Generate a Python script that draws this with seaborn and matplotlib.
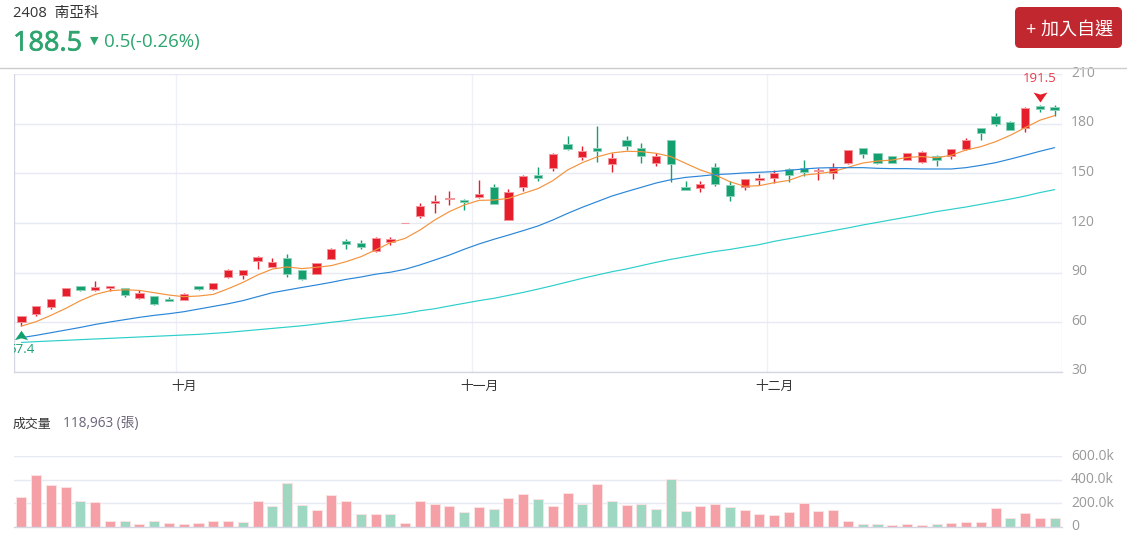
"""Stock candlestick chart with moving averages and volume."""

import matplotlib
matplotlib.use("Agg")
import matplotlib.patheffects as path_effects
import matplotlib.pyplot as plt
import matplotlib.transforms as mtransforms
import numpy as np
import seaborn as sns
from matplotlib.patches import FancyBboxPatch
from matplotlib.path import Path

candle_open = [60.1, 64.9, 69.2, 76.0, 81.7, 79.2, 80.6, 80.6, 74.4, 75.6, 74.2, 73.4, 81.7, 79.8, 87.3, 88.5, 96.8, 93.6, 98.8, 91.5, 89.3, 98.4, 108.9, 107.7, 103.2,
               108.3, 120.0, 124.0, 132.1, 134.7, 134.1, 135.7, 141.8, 122.0, 142.0, 149.1, 153.1, 168.0, 160.0, 165.2, 155.9, 170.5, 165.4, 156.3, 170.0, 142.0, 141.0, 154.1, 143.0, 141.6,
               146.2, 147.0, 152.9, 153.5, 151.3, 150.5, 156.1, 165.4, 162.4, 160.4, 158.1, 157.1, 160.4, 160.4, 164.6, 177.3, 185.0, 181.3, 177.7, 191.0, 190.2]
candle_close = [63.7, 69.8, 74.0, 80.5, 79.3, 81.5, 81.7, 76.2, 77.4, 71.2, 73.0, 76.8, 79.8, 83.5, 91.7, 91.3, 99.2, 96.4, 89.3, 86.3, 95.6, 104.5, 107.1, 105.5, 110.7,
                110.3, 120.2, 130.5, 133.5, 135.2, 132.5, 137.6, 131.5, 138.6, 148.4, 147.0, 162.0, 164.6, 163.6, 163.6, 159.1, 166.4, 160.6, 160.6, 155.5, 140.2, 143.6, 143.4, 136.4, 146.6,
                147.0, 150.1, 149.3, 151.1, 151.9, 153.5, 164.0, 162.0, 156.1, 156.3, 162.2, 162.8, 158.0, 164.8, 170.2, 174.5, 180.1, 176.5, 189.4, 189.0, 188.5]
candle_high = [63.7, 69.9, 74.1, 80.6, 81.9, 84.9, 81.9, 80.8, 79.4, 75.8, 75.4, 77.4, 81.9, 83.7, 91.9, 91.5, 100.0, 98.6, 101.2, 91.7, 95.8, 104.7, 110.1, 109.5, 111.3,
               111.5, 120.3, 131.9, 136.9, 139.4, 134.3, 146.0, 143.4, 140.8, 149.1, 153.7, 162.2, 172.7, 166.6, 178.7, 162.2, 172.7, 168.2, 162.6, 170.2, 145.4, 145.6, 156.1, 145.6, 146.8,
               149.5, 151.9, 153.1, 158.3, 153.3, 156.1, 164.2, 165.6, 162.6, 160.6, 162.4, 163.6, 161.2, 165.0, 171.3, 177.5, 186.4, 181.5, 190.2, 191.5, 191.2]
candle_low = [57.4, 63.9, 68.0, 75.6, 78.8, 79.0, 78.8, 75.4, 74.2, 70.4, 72.8, 73.2, 79.4, 79.6, 87.0, 86.1, 92.1, 93.4, 87.3, 85.3, 89.1, 98.2, 104.5, 104.5, 102.2,
              106.5, 119.9, 123.2, 126.0, 130.9, 127.9, 135.3, 131.3, 121.8, 139.2, 145.6, 151.5, 164.2, 158.4, 157.1, 150.9, 164.2, 156.5, 154.3, 145.0, 140.0, 138.8, 142.2, 133.3, 139.8,
              142.8, 144.4, 145.0, 148.4, 145.8, 146.6, 155.9, 159.2, 155.5, 156.1, 157.9, 156.3, 154.7, 158.7, 164.4, 170.2, 178.9, 176.3, 175.1, 187.4, 184.8]

ma_short = [57.6, 60.3, 64.1, 68.3, 73.0, 76.8, 79.0, 79.6, 79.2, 77.8, 76.4, 75.4, 75.8, 76.8, 80.2, 84.0, 88.5, 92.1, 93.4, 92.4, 93.2, 94.2, 96.6, 99.6, 103.7,
            108.1, 110.7, 115.7, 121.8, 126.9, 130.9, 133.7, 133.9, 134.9, 137.9, 140.8, 145.6, 152.1, 156.5, 160.0, 162.4, 163.4, 163.2, 162.2, 160.2, 156.1, 152.1, 149.1, 145.0, 142.2,
            142.6, 144.4, 145.8, 149.0, 149.9, 151.1, 153.7, 156.3, 157.5, 158.1, 159.7, 160.2, 159.5, 161.0, 164.2, 166.2, 169.2, 173.1, 177.7, 182.2, 185.0]
ma_mid = [50.6, 52.0, 53.6, 55.2, 56.8, 58.6, 60.1, 61.5, 62.9, 64.1, 65.1, 66.3, 67.9, 69.5, 71.1, 73.0, 75.4, 77.8, 79.4, 81.0, 82.5, 84.1, 85.9, 87.3, 89.0,
          90.2, 92.0, 94.6, 97.6, 100.6, 104.1, 107.3, 110.1, 112.7, 115.4, 118.2, 121.8, 125.8, 129.5, 132.9, 136.3, 139.0, 141.6, 144.2, 146.2, 147.6, 148.4, 149.3, 149.7, 150.3,
          150.7, 151.1, 151.9, 152.7, 153.3, 153.5, 153.5, 153.5, 153.1, 152.9, 152.9, 152.7, 152.7, 152.7, 153.5, 154.9, 156.5, 158.7, 161.0, 163.4, 165.6]
ma_long = [47.7, 48.2, 48.6, 49.0, 49.4, 49.8, 50.2, 50.6, 51.0, 51.4, 51.8, 52.2, 52.6, 53.2, 53.8, 54.6, 55.4, 56.2, 57.0, 57.8, 58.8, 59.9, 60.9, 62.1, 63.1,
           64.1, 65.3, 66.9, 68.1, 69.8, 71.4, 73.0, 74.4, 76.2, 78.0, 80.0, 82.1, 84.3, 86.5, 88.5, 90.5, 92.2, 94.2, 96.2, 98.0, 99.6, 101.2, 102.8, 104.0, 105.5,
           106.9, 108.9, 110.5, 112.1, 113.7, 115.4, 117.0, 118.8, 120.4, 122.0, 123.6, 125.2, 126.9, 128.3, 129.7, 131.3, 132.9, 134.5, 136.3, 138.4, 140.2]

volume_k = [256, 442, 353, 342, 220, 214, 50, 47, 28, 47, 33, 28, 36, 50, 53, 44, 220, 178, 372, 186, 142, 267, 217, 108, 108,
            111, 31, 222, 195, 178, 125, 170, 153, 245, 278, 234, 181, 284, 193, 362, 218, 188, 193, 155, 403, 135, 177, 196, 166, 141,
            110, 99, 124, 199, 135, 141, 50, 28, 28, 17, 28, 19, 28, 33, 41, 41, 157, 77, 121, 80, 75]
volume_dir = (["u"] * 4 + ["d"] + ["u"] * 2 + ["d", "u", "d"] + ["u"] * 5 + ["d", "u", "d", "d", "d"] + ["u"] * 3
              + ["d", "u", "d"] + ["u"] * 4 + ["d", "u", "d", "u", "u", "d", "u"]
              + ["u", "d", "u", "d", "u", "d", "d", "d", "d", "u", "u", "d"]
              + ["u"] * 8 + ["d", "d"] + ["u"] * 3 + ["d"] + ["u"] * 4 + ["d", "u", "u", "d"])

price_ticks = [30, 60, 90, 120, 150, 180, 210]
volume_ticks = [0, 200, 400, 600]
volume_tick_labels = ["0", "200.0k", "400.0k", "600.0k"]
month_pos = [11, 31, 51]
month_labels = ["十月", "十一月", "十二月"]

RED = "#e61e2c"
GREEN = "#14a06e"
GRID = "#e6eaf3"
AXIS = "#d4d7e3"
TICK = "#999999"
W, H = 1127, 535

sns.set_theme(style="white")
plt.rcParams["font.family"] = ["Open Sans", "Noto Sans CJK TC", "DejaVu Sans"]


def px_axes(fig, left, top, right, bottom):
    return fig.add_axes([left / W, 1 - bottom / H, (right - left) / W, (bottom - top) / H])


def style_axes(ax, ticks, labels, xlim, lift):
    ax.set_xlim(*xlim)
    ax.set_yticks(ticks)
    ax.set_yticklabels(labels)
    ax.yaxis.tick_right()
    ax.tick_params(axis="y", length=0, pad=6.5, labelsize=10, labelcolor=TICK)
    ax.grid(axis="y", color=GRID, lw=1)
    ax.set_axisbelow(True)
    for name, spine in ax.spines.items():
        spine.set_visible(name == "bottom")
        spine.set_color(AXIS)
        spine.set_linewidth(1)
    # tick text sits slightly above its grid line
    shift = mtransforms.ScaledTranslation(0, lift / 100, ax.figure.dpi_scale_trans)
    for lab in ax.get_yticklabels():
        lab.set_transform(lab.get_transform() + shift)


fig = plt.figure(figsize=(W / 100, H / 100), dpi=100, facecolor="white")

# header
fig.add_artist(plt.Line2D([0, 1], [1 - 68 / H] * 2, color="#cccccf", lw=1))
fig.text(13 / W, 1 - 13.5 / H, "2408  南亞科", fontsize=10.6, color="#333333", va="center")
price_text = fig.text(13 / W, 1 - 43.5 / H, "188.5", fontsize=19.5, color="#2ea56e", va="center")
price_text.set_path_effects([path_effects.withStroke(linewidth=0.5, foreground="#2ea56e")])
fig.text(90 / W, 1 - 41 / H, "▼", fontsize=8, color="#2ea56e", va="center", family="DejaVu Sans")
fig.text(104 / W, 1 - 42.5 / H, "0.5(-0.26%)", fontsize=13.5, color="#2ea56e", va="center")
button = FancyBboxPatch((1015, H - 48), 107, 41, transform=mtransforms.IdentityTransform(),
                        boxstyle="round,pad=0,rounding_size=5", lw=0, fc="#c1272f")
fig.add_artist(button)
fig.text(1069 / W, 1 - 30 / H, "+ 加入自選", fontsize=13, color="white", ha="center", va="center")

# price panel
ax = px_axes(fig, 14, 74.3, 1062, 371.7)
xlim = (-0.5, 70.5)
x = np.arange(len(candle_open))
opens, closes = np.array(candle_open), np.array(candle_close)
colors = [RED if c >= o else GREEN for o, c in zip(opens, closes)]
edges = ["#f2959b" if c >= o else "#8fd2ba" for o, c in zip(opens, closes)]

ax.vlines(x, candle_low, candle_high, colors=colors, lw=1, zorder=2)
ax.bar(x, np.abs(closes - opens), bottom=np.minimum(opens, closes), width=0.56,
       color=colors, edgecolor=edges, linewidth=0.7, zorder=3)
sns.lineplot(x=x, y=ma_short, color="#f4933d", lw=0.85, ax=ax, zorder=4)
sns.lineplot(x=x, y=ma_mid, color="#2a86d8", lw=0.85, ax=ax, zorder=4)
sns.lineplot(x=x, y=ma_long, color="#2ccfca", lw=0.85, ax=ax, zorder=4)
ax.set_ylim(30, 210)
style_axes(ax, price_ticks, [str(t) for t in price_ticks], xlim, 3)
ax.set_xticks(month_pos)
ax.set_xticklabels(month_labels)
ax.tick_params(axis="x", length=0, pad=6, labelsize=9.2, labelcolor="#333333")
for pos in month_pos:
    ax.axvline(pos - 0.5, color=GRID, lw=1, alpha=0.7, zorder=1)
ax.axvline(xlim[0], color=AXIS, lw=1, zorder=1)
ax.axvline(xlim[1], color=GRID, lw=1, zorder=1)

# high / low pins
low_i = int(np.argmin(candle_low))
high_i = int(np.argmax(candle_high))
down_pin = Path([(-1, 0.72), (0, 0.42), (1, 0.72), (0, -0.72), (-1, 0.72)], [1, 2, 2, 2, 79])
up_pin = Path([(-1, -0.72), (0, -0.42), (1, -0.72), (0, 0.72), (-1, -0.72)], [1, 2, 2, 2, 79])
low_tr = mtransforms.offset_copy(ax.transData, fig=fig, y=-9, units="dots")
high_tr = mtransforms.offset_copy(ax.transData, fig=fig, y=8, units="dots")
ax.plot(x[low_i], candle_low[low_i], marker=up_pin, ms=9.5, color=GREEN, mew=0, transform=low_tr, zorder=5)
ax.plot(x[high_i], candle_high[high_i], marker=down_pin, ms=10, color=RED, mew=0, transform=high_tr, zorder=5)
ax.annotate(f"{candle_low[low_i]}", (x[low_i], candle_low[low_i]), xytext=(0, -17), textcoords="offset pixels",
            ha="center", va="top", fontsize=9.5, color=GREEN, annotation_clip=False, clip_on=True)
ax.annotate(f"{candle_high[high_i]}", (x[high_i], candle_high[high_i]), xytext=(0, 20), textcoords="offset pixels",
            ha="center", va="bottom", fontsize=9.5, color="#e8394a", annotation_clip=False)

# volume panel
fig.text(13 / W, 1 - 424 / H, "成交量", fontsize=9.3, color="#333333", va="center")
fig.text(63 / W, 1 - 424 / H, "118,963 (張)", fontsize=9.8, color="#6b6478", va="center")
vax = px_axes(fig, 14, 456, 1062, 527)
sns.barplot(x=x, y=volume_k, hue=volume_dir, palette={"u": "#f4a0a6", "d": "#9ed8c3"}, dodge=False,
            saturation=1, width=0.68, legend=False, linewidth=0.7, edgecolor="#fbe3e3", ax=vax)
vax.set_ylim(0, 600)
style_axes(vax, volume_ticks, volume_tick_labels, xlim, 2)
vax.set_xticks([])
vax.set_xlabel("")
vax.set_ylabel("")
ax.set_xlabel("")
ax.set_ylabel("")

fig.savefig("out.png", dpi=100)
